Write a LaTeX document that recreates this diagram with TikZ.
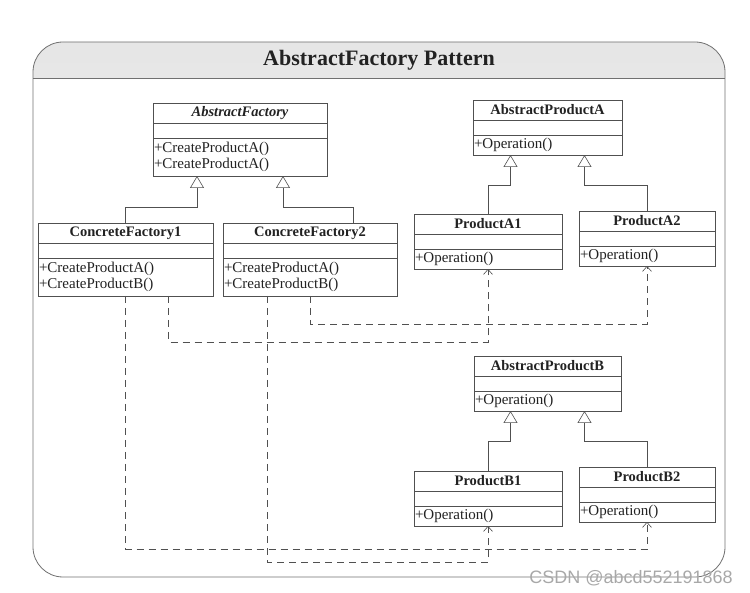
\documentclass[tikz,border=0pt]{standalone}
\usepackage{fontspec}
\setmainfont{Liberation Serif}
\setsansfont{Liberation Sans}
\usepackage{xcolor}
\definecolor{umlline}{HTML}{505050}
\definecolor{umltext}{HTML}{222222}
\definecolor{framegray}{HTML}{707070}
\definecolor{markgray}{HTML}{A8A8A8}
\usepackage{tikz}
\usetikzlibrary{positioning,arrows.meta}
\newcommand{\clsfont}{\fontsize{14.5}{16}\selectfont}
\newcommand{\opsfont}{\fontsize{15}{16}\selectfont}
\tikzset{
  cname/.style ={draw=umlline, semithick, fill=white, minimum height=20pt, inner sep=0pt,
                 outer sep=0pt, font=\clsfont\bfseries, text=umltext},
  cattr/.style ={draw=umlline, semithick, fill=white, minimum height=15pt, inner sep=0pt,
                 outer sep=0pt},
  cops/.style  ={draw=umlline, semithick, fill=white, inner xsep=1pt, inner ysep=2pt,
                 outer sep=0pt, align=left, font=\opsfont, text=umltext},
  ops1/.style  ={cops, minimum height=20pt},
  ops2/.style  ={cops, minimum height=38pt},
  inh/.style   ={-{Triangle[open, length=12pt, width=14pt]}, semithick, draw=umlline},
  dep/.style   ={-{Straight Barb[length=5pt, width=9pt]}, semithick, draw=umlline,
                 dash pattern=on 7pt off 5pt},
}

\begin{document}
\begin{tikzpicture}[x=1pt, y=-1pt]
  \useasboundingbox (0,0) rectangle (750,593);
  % frame with shaded title band
  \begin{scope}
    \clip (33,42) rectangle (725,78);
    \shade[top color=black!10, bottom color=white, rounded corners=30pt] (33,42) rectangle (725,577);
  \end{scope}
  \draw[framegray, thick, rounded corners=30pt] (33,42) rectangle (725,577);
  \draw[framegray, thick] (33,78) -- (725,78);
  \node[font=\fontsize{22}{24}\selectfont\bfseries, text=umltext] (title) at (379,60) {AbstractFactory Pattern};

  % factories
  \node[cname, anchor=north west, minimum width=174pt] (af) at (153,103) {\itshape AbstractFactory};
  \node[cattr, minimum width=174pt, below=0pt of af] (afa) {};
  \node[ops2, text width=172pt, below=0pt of afa] (afo) {+CreateProductA()\\+CreateProductA()};

  \node[cname, anchor=north west, minimum width=175pt] (cf1) at (38,223) {ConcreteFactory1};
  \node[cattr, minimum width=175pt, below=0pt of cf1] (cf1a) {};
  \node[ops2, text width=173pt, below=0pt of cf1a] (cf1o) {+CreateProductA()\\+CreateProductB()};

  \node[cname, anchor=north west, minimum width=174pt] (cf2) at (223,223) {ConcreteFactory2};
  \node[cattr, minimum width=174pt, below=0pt of cf2] (cf2a) {};
  \node[ops2, text width=172pt, below=0pt of cf2a] (cf2o) {+CreateProductA()\\+CreateProductB()};

  % products A
  \node[cname, anchor=north west, minimum width=149pt] (pa) at (473,100) {AbstractProductA};
  \node[cattr, minimum width=149pt, below=0pt of pa] (paa) {};
  \node[ops1, text width=147pt, below=0pt of paa] (pao) {+Operation()};

  \node[cname, anchor=north west, minimum width=148pt] (pa1) at (414,214) {ProductA1};
  \node[cattr, minimum width=148pt, below=0pt of pa1] (pa1a) {};
  \node[ops1, text width=146pt, below=0pt of pa1a] (pa1o) {+Operation()};

  \node[cname, anchor=north west, minimum width=136pt] (pa2) at (579,211) {ProductA2};
  \node[cattr, minimum width=136pt, below=0pt of pa2] (pa2a) {};
  \node[ops1, text width=134pt, below=0pt of pa2a] (pa2o) {+Operation()};

  % products B
  \node[cname, anchor=north west, minimum width=147pt] (pb) at (474,356) {AbstractProductB};
  \node[cattr, minimum width=147pt, below=0pt of pb] (pba) {};
  \node[ops1, text width=145pt, below=0pt of pba] (pbo) {+Operation()};

  \node[cname, anchor=north west, minimum width=148pt] (pb1) at (414,471) {ProductB1};
  \node[cattr, minimum width=148pt, below=0pt of pb1] (pb1a) {};
  \node[ops1, text width=146pt, below=0pt of pb1a] (pb1o) {+Operation()};

  \node[cname, anchor=north west, minimum width=136pt] (pb2) at (579,467) {ProductB2};
  \node[cattr, minimum width=136pt, below=0pt of pb2] (pb2a) {};
  \node[ops1, text width=134pt, below=0pt of pb2a] (pb2o) {+Operation()};

  % generalisation
  \draw[inh] (cf1.north) -- ++(0,-16) -| ([xshift=-43pt]afo.south);
  \draw[inh] ([xshift=43pt]cf2.north) -- ++(0,-16) -| ([xshift=43pt]afo.south);
  \draw[inh] (pa1.north) -- ++(0,-29) -| ([xshift=-37pt]pao.south);
  \draw[inh] (pa2.north) -- ++(0,-26) -| ([xshift=37pt]pao.south);
  \draw[inh] (pb1.north) -- ++(0,-30) -| ([xshift=-37pt]pbo.south);
  \draw[inh] (pb2.north) -- ++(0,-26) -| ([xshift=37pt]pbo.south);

  % creates
  \draw[dep] ([xshift=43pt]cf1o.south) -- ++(0,46) -| (pa1o.south);
  \draw[dep] (cf2o.south) -- ++(0,28) -| (pa2o.south);
  \draw[dep] (cf1o.south) -- ++(0,253) -| (pb2o.south);
  \draw[dep] ([xshift=-43pt]cf2o.south) -- ++(0,266) -| (pb1o.south);

  \node[font=\sffamily\fontsize{18}{20}\selectfont, text=markgray] (mark) at (631,578) {CSDN @abcd552191868};
\end{tikzpicture}
\end{document}
